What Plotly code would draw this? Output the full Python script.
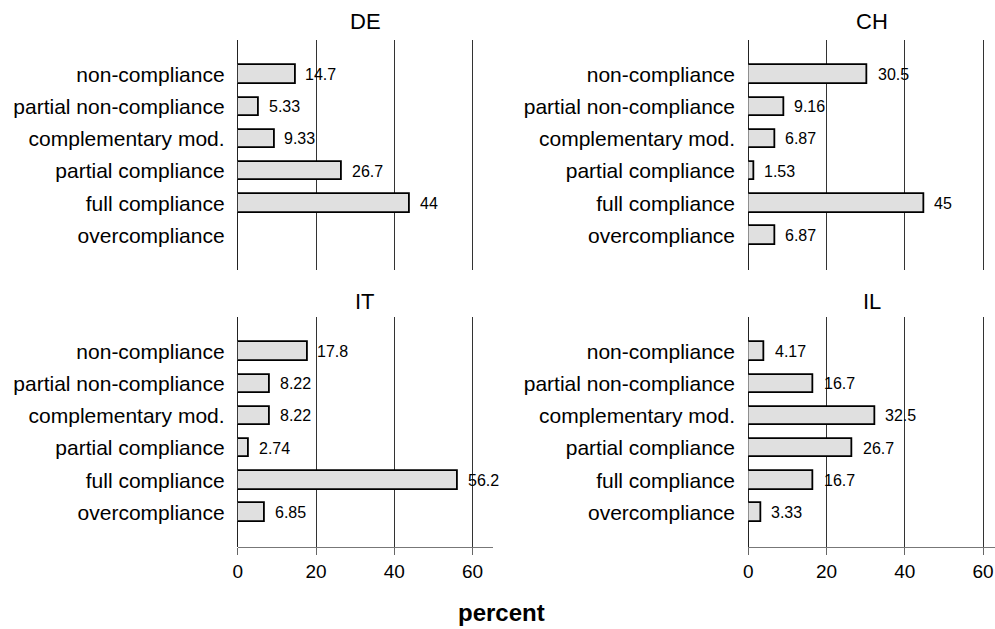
import plotly.graph_objects as go

categories = ["non-compliance", "partial non-compliance", "complementary mod.",
              "partial compliance", "full compliance", "overcompliance"]
panels = ["DE", "CH", "IT", "IL"]
de_values = [14.7, 5.33, 9.33, 26.7, 44, None]
ch_values = [30.5, 9.16, 6.87, 1.53, 45, 6.87]
it_values = [17.8, 8.22, 8.22, 2.74, 56.2, 6.85]
il_values = [4.17, 16.7, 32.5, 26.7, 16.7, 3.33]
de_labels = ["14.7", "5.33", "9.33", "26.7", "44", ""]
ch_labels = ["30.5", "9.16", "6.87", "1.53", "45", "6.87"]
it_labels = ["17.8", "8.22", "8.22", "2.74", "56.2", "6.85"]
il_labels = ["4.17", "16.7", "32.5", "26.7", "16.7", "3.33"]
tick_vals = [0, 20, 40, 60]
tick_text = ["0", "20", "40", "60"]
x_label = "percent"

FONT = "Liberation Sans, Arial, sans-serif"
W, H = 995, 629

values_list = [de_values, ch_values, it_values, il_values]
labels_list = [de_labels, ch_labels, it_labels, il_labels]

# panel geometry in pixels
xdom_px = [(234, 490), (747, 995), (234, 490), (747, 995)]
ydom_px = [(40, 270), (40, 270), (317, 547), (317, 547)]
xranges = [[0, 65.1], [0, 63.05], [0, 65.1], [0, 63.05]]
title_y_px = [22, 22, 301, 301]

fig = go.Figure()
annotations = []
layout = {}
for i in range(4):
    n = "" if i == 0 else str(i + 1)
    xa, ya = "x" + n, "y" + n
    fig.add_trace(go.Bar(
        x=values_list[i], y=categories, orientation="h",
        xaxis=xa, yaxis=ya, width=0.57,
        marker=dict(color="#e0e0e0", line=dict(color="#000000", width=1.8)),
        showlegend=False, hoverinfo="skip"))
    bottom = i >= 2
    layout["xaxis" + n] = dict(
        domain=[xdom_px[i][0] / W, xdom_px[i][1] / W],
        range=xranges[i], anchor=ya,
        tickmode="array", tickvals=tick_vals, ticktext=tick_text,
        showticklabels=bottom, ticks="outside" if bottom else "",
        ticklen=7, tickcolor="#666666",
        showline=bottom, linecolor="#777777", linewidth=1,
        showgrid=True, gridcolor="#333333", gridwidth=1,
        zeroline=True, zerolinecolor="#222222", zerolinewidth=1,
        tickfont=dict(family=FONT, size=19, color="#000000"),
        fixedrange=True)
    layout["yaxis" + n] = dict(
        domain=[1 - ydom_px[i][1] / H, 1 - ydom_px[i][0] / H],
        anchor=xa, type="category",
        categoryorder="array", categoryarray=categories,
        range=[6.07, -1.07],
        showgrid=False, zeroline=False, showline=False,
        ticks="outside", ticklen=8, tickcolor="rgba(0,0,0,0)",
        tickfont=dict(family=FONT, size=21, color="#000000"),
        fixedrange=True)
    # panel title
    annotations.append(dict(
        text=panels[i], xref="paper", yref="paper",
        x=(xdom_px[i][0] + xdom_px[i][1]) / 2 / W, y=1 - title_y_px[i] / H,
        xanchor="center", yanchor="middle", showarrow=False,
        font=dict(family=FONT, size=22, color="#000000")))
    # value labels
    for c, v, lab in zip(categories, values_list[i], labels_list[i]):
        if v is None or lab == "":
            continue
        annotations.append(dict(
            text=lab, x=v, y=c, xref=xa, yref=ya,
            xanchor="left", yanchor="middle", xshift=8, showarrow=False,
            font=dict(family=FONT, size=16, color="#000000")))

annotations.append(dict(
    text="<b>" + x_label + "</b>", xref="paper", yref="paper",
    x=499 / W, y=1 - 612 / H, xanchor="center", yanchor="middle",
    showarrow=False, font=dict(family=FONT, size=24, color="#000000")))

fig.update_layout(
    width=W, height=H, margin=dict(l=0, r=0, t=0, b=0),
    paper_bgcolor="white", plot_bgcolor="white",
    bargap=0, annotations=annotations, **layout)

fig.write_html("out.html")
